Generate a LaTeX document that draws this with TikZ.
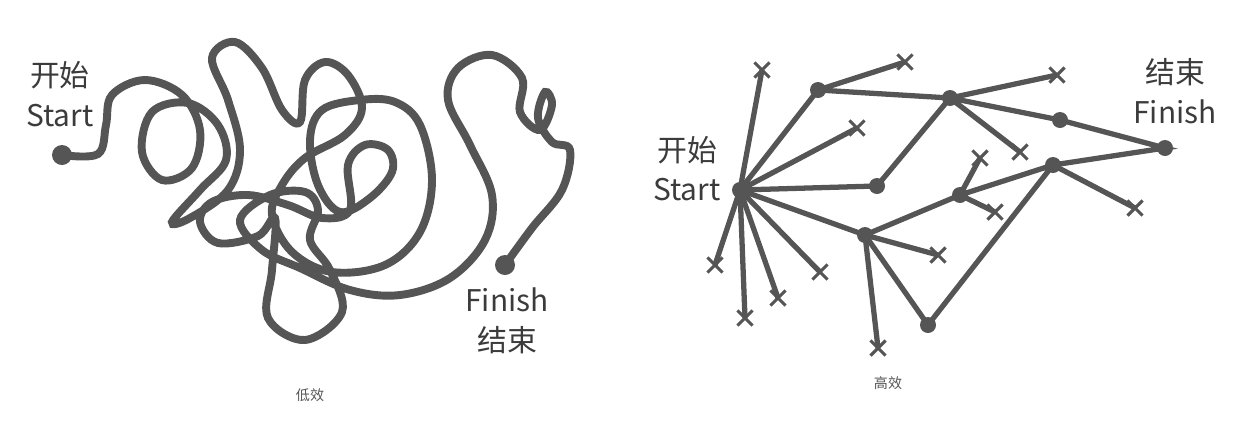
\documentclass[tikz,border=0pt]{standalone}
\usepackage{fontspec}
\setmainfont{Noto Sans CJK SC}
\usetikzlibrary{shapes.misc}
\definecolor{ink}{HTML}{555555}
\tikzset{
  dot/.style={circle,fill=ink,inner sep=0pt,minimum size=20*0.02cm},
  tip/.style={cross out,draw=ink,line width=1.8pt,inner sep=0pt,minimum size=12*0.02cm},
  edge/.style={ink,line width=3pt},
  lbl/.style={font=\fontsize{17}{18}\selectfont,text=ink!70!black},
  caption/.style={font=\fontsize{8}{9}\selectfont,text=ink}
}
\begin{document}
\begin{tikzpicture}[x=0.02cm,y=-0.02cm]
    \useasboundingbox (0,0) rectangle (1255,447);

    % inefficient path
    \draw[ink,line width=4.5pt,line cap=round] plot[smooth,tension=0.6] coordinates {
      (62,155) (98,154) (106,125) (112,95) (145,80) (182,95) (200,130) (192,168) (162,180)
      (142,152) (152,112) (188,103) (218,125) (226,160) (200,190) (172,222) (190,218)
      (228,190) (240,150) (228,100) (212,58) (235,42) (262,68) (282,110) (300,122)
      (305,80) (325,62) (348,75) (362,108) (345,135) (305,158) (282,185) (272,215)
      (292,252) (332,272) (385,265) (420,232) (432,180) (420,125) (395,102) (360,100)
      (322,110) (310,140) (318,185) (340,212) (370,198) (392,172) (388,150) (365,145)
      (348,165) (350,210) (322,218) (288,205) (248,195) (212,202) (200,222) (218,243)
      (258,236) (275,218) (272,270) (268,318) (305,340) (342,312) (330,270) (310,240)
      (318,210) (305,192) (270,195) (240,220) (262,250) (300,268) (350,290) (400,295)
      (450,278) (485,240) (492,195) (470,145) (448,100) (458,68) (492,55) (522,78)
      (520,112) (540,130) (552,105) (545,92) (538,118) (552,142) (570,150) (562,190)
      (532,228) (505,265)};
    \node[dot] (s1) at (62,155) {};
    \node[dot] (f1) at (505,265) {};
    \node[lbl] at (60,75) {开始};
    \node[lbl] at (60,116) {Start};
    \node[lbl] at (507,300) {Finish};
    \node[lbl] at (507,340) {结束};
    \node[caption] at (310,395) {低效};

    % efficient tree
    \node[dot,minimum size=16*0.02cm] (s2) at (740,190) {};
    \node[dot,minimum size=16*0.02cm] (a) at (818,90) {};
    \node[dot,minimum size=16*0.02cm] (b) at (950,98) {};
    \node[dot,minimum size=16*0.02cm] (c) at (1060,120) {};
    \node[dot,minimum size=16*0.02cm] (f2) at (1165,148) {};
    \node[dot,minimum size=16*0.02cm] (e) at (1053,165) {};
    \node[dot,minimum size=16*0.02cm] (g) at (960,195) {};
    \node[dot,minimum size=16*0.02cm] (h) at (877,186) {};
    \node[dot,minimum size=16*0.02cm] (k) at (865,235) {};
    \node[dot,minimum size=16*0.02cm] (m) at (928,325) {};
    \draw[edge] (s2.center) -- (a.center) -- (b.center) -- (c.center) -- (f2.center) -- (e.center)
      -- (g.center) -- (k.center) -- (m.center) -- (e.center);
    \draw[edge] (s2.center) -- (h.center);
    \draw[edge] (h.center) -- (b.center);
    \draw[edge] (s2.center) -- (k.center);

    % dead ends
    \foreach \from/\x/\y/\n in {a/905/62/t1, b/1057/75/t2, b/1020/152/t3, s2/857/128/t4,
        s2/762/70/t5, s2/715/265/t6, s2/745/318/t7, s2/778/298/t8, s2/820/272/t9,
        k/878/348/t10, k/938/255/t11, g/980/158/t12, g/995/212/t13, e/1135/208/t14} {
      \node[tip] (\n) at (\x,\y) {};
      \draw[edge] (\from.center) -- (\n.center);
    }

    \node[lbl] at (687,150) {开始};
    \node[lbl] at (687,190) {Start};
    \node[lbl] at (1175,72) {结束};
    \node[lbl] at (1175,112) {Finish};
    \node[caption] at (888,383) {高效};
\end{tikzpicture}
\end{document}
